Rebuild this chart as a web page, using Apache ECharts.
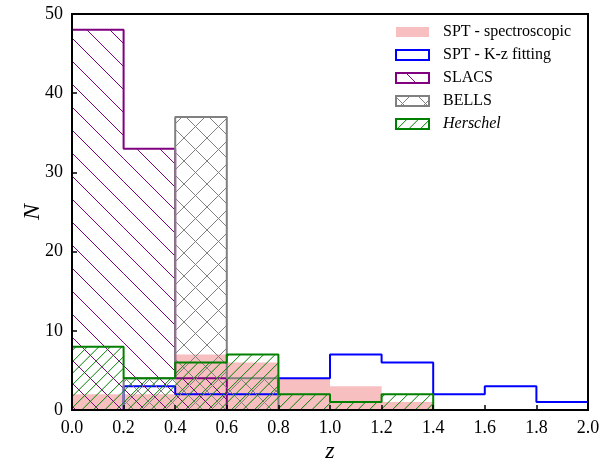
<!DOCTYPE html>
<html>
<head>
<meta charset="utf-8">
<script src="https://cdn.jsdelivr.net/npm/echarts@6/dist/echarts.min.js"></script>
<style>
html, body { margin: 0; padding: 0; background: #fff; }
#chart { width: 610px; height: 464px; }
</style>
</head>
<body>
<div id="chart"></div>
<script>
// Redshift bin edges shared by every histogram
const binEdges = [0.0, 0.2, 0.4, 0.6, 0.8, 1.0, 1.2, 1.4, 1.6, 1.8, 2.0];

// Counts per bin
const sptSpectroscopic = [2, 2, 7, 6, 4, 3, 1, 0, 0, 0];
const sptKzFitting     = [0, 3, 2, 2, 4, 7, 6, 2, 3, 1];
const slacs            = [48, 33, 4, 0, 0, 0, 0, 0, 0, 0];
const bells            = [0, 4, 37, 4, 0, 0, 0, 0, 0, 0];
const herschel         = [8, 4, 6, 7, 2, 1, 2, 0, 0, 0];

// Legend labels
const legendLabels = ['SPT - spectroscopic', 'SPT - K-z fitting', 'SLACS', 'BELLS', 'Herschel'];

const SERIF = '"Liberation Serif", "DejaVu Serif", serif';
const PINK = 'rgba(240,128,128,0.5)';
const BLUE = '#0000ff', PURPLE = '#800080', GRAY = '#808080', GREEN = '#008000';

// Hatch styles: line colour, spacing (px along x) and directions
const slacsHatch    = { color: PURPLE, period: 23,   kinds: ['back'],        phase: 12 };
const bellsHatch    = { color: GRAY,   period: 23,   kinds: ['back', 'fwd'], phase: 0 };
const herschelHatch = { color: GREEN,  period: 11.5, kinds: ['fwd'],         phase: 8.7 };

// 45-degree hatch lines clipped to a pixel rectangle {xa, xb, ya (top), yb (bottom)}.
// Lines are anchored to the canvas so neighbouring bins join seamlessly.
function hatchLines(r, h) {
  const out = [];
  const P = h.period;
  const st = { stroke: h.color, lineWidth: 1 };
  for (const kind of h.kinds) {
    if (kind === 'back') {            // y = x + d
      const dMin = r.ya - r.xb, dMax = r.yb - r.xa;
      for (let d = Math.ceil((dMin - h.phase) / P) * P + h.phase; d <= dMax; d += P) {
        const xs = Math.max(r.xa, r.ya - d), xe = Math.min(r.xb, r.yb - d);
        if (xe - xs > 0.05) out.push({ type: 'line', shape: { x1: xs, y1: xs + d, x2: xe, y2: xe + d }, style: st });
      }
    } else {                          // y = s - x
      const sMin = r.xa + r.ya, sMax = r.xb + r.yb;
      for (let s = Math.ceil((sMin - h.phase) / P) * P + h.phase; s <= sMax; s += P) {
        const xs = Math.max(r.xa, s - r.yb), xe = Math.min(r.xb, s - r.ya);
        if (xe - xs > 0.05) out.push({ type: 'line', shape: { x1: xs, y1: s - xs, x2: xe, y2: s - xe }, style: st });
      }
    }
  }
  return out;
}

function binData(counts) {
  return counts.map((c, i) => [binEdges[i], binEdges[i + 1], c]);
}

// Hatched fill of each bin
function hatchSeries(name, counts, hatch, z) {
  return {
    name: name,
    type: 'custom',
    silent: true,
    z: z,
    data: binData(counts),
    encode: { x: [0, 1], y: 2 },
    renderItem: function (params, api) {
      const c = api.value(2);
      if (!c) return null;
      const p0 = api.coord([api.value(0), 0]);
      const p1 = api.coord([api.value(1), c]);
      return {
        type: 'group',
        children: hatchLines({ xa: p0[0], xb: p1[0], ya: p1[1], yb: p0[1] }, hatch)
      };
    }
  };
}

// Step outline of a histogram, closed down to zero at both ends
function stepPoints(counts) {
  const pts = [[binEdges[0], 0]];
  counts.forEach((c, i) => {
    pts.push([binEdges[i], c]);
    pts.push([binEdges[i + 1], c]);
  });
  pts.push([binEdges[binEdges.length - 1], 0]);
  return pts;
}

function outlineSeries(name, counts, color, z) {
  return {
    name: name, type: 'line', data: stepPoints(counts),
    symbol: 'none', silent: true, z: z,
    lineStyle: { color: color, width: 2 }
  };
}

function filledSeries(name, counts, fill, z) {
  return {
    name: name, type: 'line', data: stepPoints(counts),
    symbol: 'none', silent: true, z: z,
    lineStyle: { width: 0, opacity: 0 },
    areaStyle: { color: fill, opacity: 1 }
  };
}

// Legend: patches + text in the upper right corner
const legendX = 396, legendW = 33, legendH = 10, legendTextX = 443, legendY0 = 32, legendDy = 23;
const legendPatches = [
  { fill: PINK, stroke: null, hatch: null },
  { fill: '#fff', stroke: BLUE, hatch: null },
  { fill: null, stroke: PURPLE, hatch: slacsHatch },
  { fill: null, stroke: GRAY, hatch: bellsHatch },
  { fill: null, stroke: GREEN, hatch: herschelHatch }
];
const legendGraphics = [];
legendPatches.forEach((p, i) => {
  const cy = legendY0 + i * legendDy;
  const r = { xa: legendX, xb: legendX + legendW, ya: cy - legendH / 2, yb: cy + legendH / 2 };
  if (p.hatch) {
    legendGraphics.push({ type: 'group', z: 20, children: hatchLines(r, p.hatch) });
  }
  legendGraphics.push({
    type: 'rect', z: 21,
    shape: { x: r.xa, y: r.ya, width: legendW, height: legendH },
    style: { fill: p.fill || 'transparent', stroke: p.stroke || null, lineWidth: p.stroke ? 2 : 0 }
  });
  legendGraphics.push({
    type: 'text', z: 21, x: legendTextX, y: cy,
    style: {
      text: legendLabels[i], fill: '#000',
      font: (i === 4 ? 'italic ' : '') + '16px ' + SERIF,
      verticalAlign: 'middle', align: 'left'
    }
  });
});

const axisCommon = {
  type: 'value', z: 10,
  nameLocation: 'middle', nameMoveOverlap: false,
  nameTextStyle: { fontFamily: SERIF, fontStyle: 'italic', fontSize: 24, color: '#000' },
  axisLine: { show: true, onZero: false, lineStyle: { color: '#000', width: 2 } },
  axisTick: { show: true, inside: true, length: 5, lineStyle: { color: '#000', width: 1.5 } },
  splitLine: { show: false }
};

const chart = echarts.init(document.getElementById('chart'), null, { renderer: 'canvas' });
chart.setOption({
  animation: false,
  backgroundColor: '#fff',
  grid: {
    left: 72, right: 22, top: 14, bottom: 54,
    containLabel: false, outerBoundsMode: 'none',
    show: true, borderColor: '#000', borderWidth: 2, backgroundColor: 'transparent', z: 10
  },
  xAxis: Object.assign({}, axisCommon, {
    min: 0, max: 2, interval: 0.2,
    name: 'z', nameGap: 30,
    axisLabel: { margin: 9, color: '#000', fontFamily: SERIF, fontSize: 18, formatter: v => v.toFixed(1) }
  }),
  yAxis: Object.assign({}, axisCommon, {
    min: 0, max: 50, interval: 10,
    name: 'N', nameGap: 27,
    axisLabel: { margin: 9, color: '#000', fontFamily: SERIF, fontSize: 18 }
  }),
  series: [
    filledSeries(legendLabels[0], sptSpectroscopic, PINK, 1),
    outlineSeries(legendLabels[1], sptKzFitting, BLUE, 2),
    hatchSeries(legendLabels[2], slacs, slacsHatch, 3),
    outlineSeries(legendLabels[2], slacs, PURPLE, 4),
    hatchSeries(legendLabels[3], bells, bellsHatch, 5),
    outlineSeries(legendLabels[3], bells, GRAY, 6),
    hatchSeries(legendLabels[4], herschel, herschelHatch, 7),
    outlineSeries(legendLabels[4], herschel, GREEN, 8)
  ],
  graphic: legendGraphics
});
</script>
</body>
</html>
